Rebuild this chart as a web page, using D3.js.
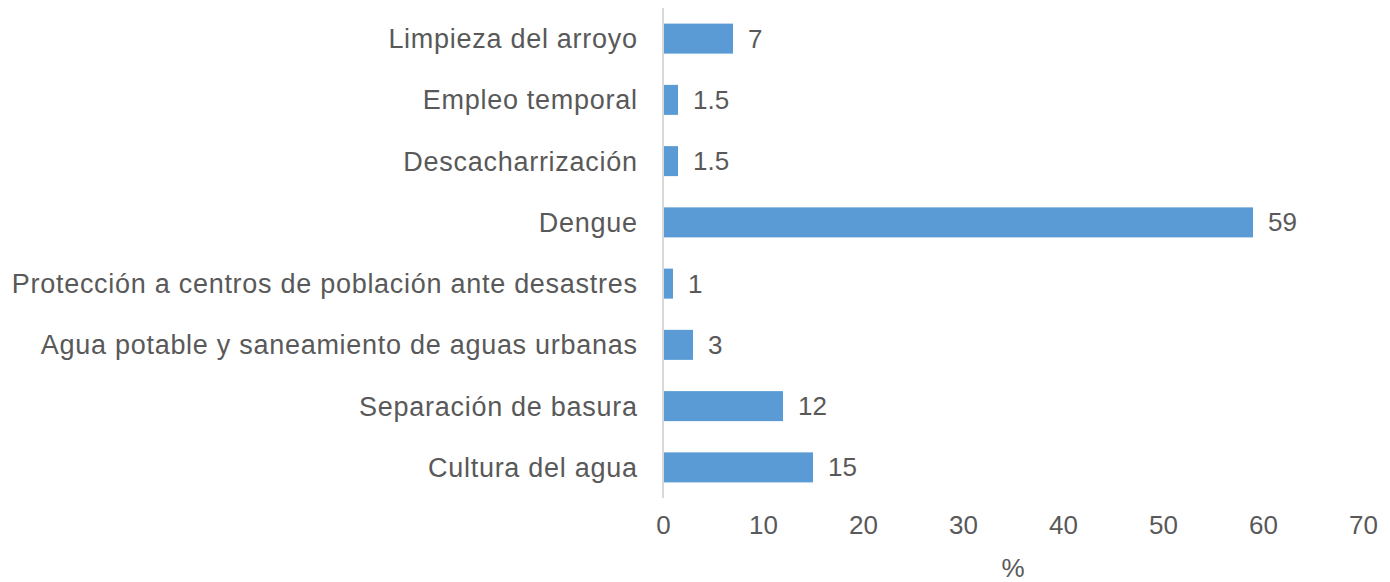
<!DOCTYPE html>
<html><head><meta charset="utf-8">
<script src="https://cdn.jsdelivr.net/npm/d3@7"></script>
<style>body{margin:0;background:#fff;} svg{display:block;font-family:"Liberation Sans",Arial,sans-serif;}</style>
</head><body>
<svg id="c" width="1390" height="582"></svg>
<script>
const categories = ["Limpieza del arroyo","Empleo temporal","Descacharrización","Dengue","Protección a centros de población ante desastres","Agua potable y saneamiento de aguas urbanas","Separación de basura","Cultura del agua"];
const values = [7,1.5,1.5,59,1,3,12,15];
const valueLabels = ["7","1.5","1.5","59","1","3","12","15"];
const xTicks = [0,10,20,30,40,50,60,70];
const xTitle = "%";

(function(){
const svg = d3.select("#c");
const pL = 663, pR = 1363, pT = 8, pB = 498;
const x = d3.scaleLinear().domain([0,70]).range([pL,pR]);
const y = d3.scaleBand().domain(categories).range([pT,pB]).paddingInner(0.51).paddingOuter(0.255);
const txt = "#595959", fs = 26;

svg.append("g").selectAll("rect").data(categories).join("rect")
  .attr("x", x(0)).attr("y", d=>y(d)).attr("width", (d,i)=>x(values[i])-x(0)).attr("height", y.bandwidth())
  .attr("fill","#5B9BD5");

svg.append("line").attr("x1",pL).attr("x2",pL).attr("y1",pT).attr("y2",pB)
  .attr("stroke","#d9d9d9").attr("stroke-width",2);

svg.append("g").selectAll("text").data(categories).join("text")
  .attr("x", pL-25.3).attr("y", d=>y(d)+y.bandwidth()/2).attr("dy","0.35em")
  .attr("text-anchor","end").attr("font-size",27).attr("letter-spacing","0.72px").attr("fill",txt).text(d=>d);

svg.append("g").selectAll("text").data(categories).join("text")
  .attr("x", (d,i)=>x(values[i])+15).attr("y", d=>y(d)+y.bandwidth()/2).attr("dy","0.35em")
  .attr("font-size",fs).attr("fill",txt).text((d,i)=>valueLabels[i]);

const ax = svg.append("g").attr("transform",`translate(0,${pB})`)
  .call(d3.axisBottom(x).tickValues(xTicks).tickSize(0).tickPadding(18).tickFormat(d3.format("d")));
ax.select(".domain").remove();
ax.selectAll("text").attr("font-size",fs).attr("fill",txt).attr("font-family","Liberation Sans, Arial, sans-serif");

svg.append("text").attr("x",(pL+pR)/2).attr("y",568).attr("dy","0.35em").attr("text-anchor","middle")
  .attr("font-size",fs).attr("fill",txt).text(xTitle);
})();
</script>
</body></html>
